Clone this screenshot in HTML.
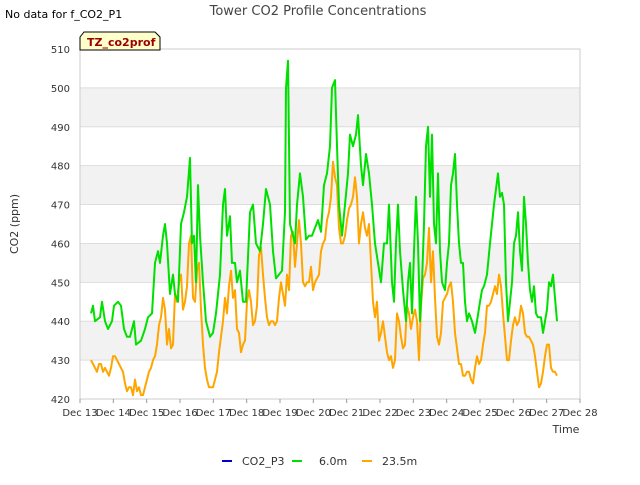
<!DOCTYPE html>
<html><head><meta charset="utf-8"><style>
body{margin:0;background:#fff;font-family:"Liberation Sans",sans-serif}
svg text{font-family:"DejaVu Sans","Liberation Sans",sans-serif}
</style></head><body>
<svg id="chart" width="640" height="480" xmlns="http://www.w3.org/2000/svg">
<rect width="640" height="480" fill="#fff"/>
<text x="318" y="15" text-anchor="middle" font-size="13" fill="#444">Tower CO2 Profile Concentrations</text>
<text x="5" y="18" font-size="11" fill="#000">No data for f_CO2_P1</text>
<g id="plot"></g>
<g>
<path d="M80,50 L80,37 L84,32 L155,32 L160,37 L160,50 Z" fill="#ffffcc" stroke="#000" stroke-width="1"/>
<text x="87" y="46" font-size="11" font-weight="bold" fill="#990000">TZ_co2prof</text>
</g>
<text transform="translate(18,224) rotate(-90)" text-anchor="middle" font-size="11" fill="#333">CO2 (ppm)</text>
<text x="566" y="433" text-anchor="middle" font-size="11" fill="#333">Time</text>
<g>
<g><line x1="222" y1="461" x2="232" y2="461" stroke="#0000cc" stroke-width="2"/><text x="242" y="465" font-size="11" fill="#333">CO2_P3</text></g>
<g><line x1="292" y1="461" x2="302" y2="461" stroke="#00dd00" stroke-width="2"/><text x="319" y="465" font-size="11" fill="#333">6.0m</text></g>
<g><line x1="362" y1="461" x2="372" y2="461" stroke="#ffa500" stroke-width="2"/><text x="382" y="465" font-size="11" fill="#333">23.5m</text></g>
</g>
</svg>
<script>
const yTicks=[420,430,440,450,460,470,480,490,500,510];
const xTickLabels=["Dec 13","Dec 14","Dec 15","Dec 16","Dec 17","Dec 18","Dec 19","Dec 20","Dec 21","Dec 22","Dec 23","Dec 24","Dec 25","Dec 26","Dec 27","Dec 28"];
const greenTimes=[13.33,13.39,13.45,13.60,13.66,13.75,13.84,13.96,14.02,14.14,14.23,14.32,14.41,14.50,14.62,14.68,14.83,14.95,15.04,15.16,15.25,15.34,15.40,15.49,15.55,15.61,15.70,15.79,15.85,15.94,16.03,16.12,16.21,16.30,16.36,16.42,16.48,16.54,16.60,16.69,16.78,16.90,16.99,17.08,17.20,17.29,17.35,17.41,17.50,17.56,17.65,17.71,17.80,17.89,17.98,18.10,18.19,18.28,18.40,18.49,18.58,18.70,18.79,18.88,18.97,19.06,19.15,19.18,19.24,19.30,19.39,19.45,19.51,19.60,19.69,19.78,19.87,19.96,20.05,20.14,20.23,20.32,20.41,20.50,20.56,20.65,20.71,20.77,20.86,20.95,21.04,21.10,21.19,21.28,21.34,21.43,21.49,21.58,21.67,21.76,21.85,21.94,22.03,22.12,22.21,22.27,22.36,22.42,22.48,22.54,22.60,22.69,22.78,22.84,22.90,22.96,23.02,23.08,23.14,23.20,23.26,23.32,23.38,23.44,23.50,23.56,23.62,23.68,23.74,23.80,23.86,23.95,24.01,24.07,24.13,24.19,24.25,24.31,24.37,24.43,24.49,24.55,24.61,24.67,24.76,24.85,24.91,25.00,25.06,25.12,25.21,25.30,25.36,25.42,25.48,25.54,25.60,25.66,25.72,25.78,25.84,25.90,25.96,26.02,26.08,26.14,26.20,26.26,26.32,26.38,26.44,26.50,26.56,26.62,26.68,26.74,26.83,26.89,26.95,27.01,27.07,27.13,27.19,27.25,27.31];
const greenValues=[442,444,440,441,445,440,438,440,444,445,444,438,436,436,440,434,435,438,441,442,455,458,455,462,465,460,447,452,447,445,465,468,472,482,460,462,450,475,462,450,440,436,437,442,452,470,474,462,467,455,455,450,453,445,445,468,470,460,458,465,474,470,458,451,452,453,468,500,507,465,462,460,470,478,472,461,462,462,464,466,463,475,478,485,500,502,485,470,462,470,478,488,485,488,493,480,475,483,478,470,460,455,450,460,460,470,450,445,460,470,458,448,440,450,455,442,458,472,460,440,450,465,485,490,472,488,465,460,478,458,450,448,455,460,475,478,483,470,460,455,455,445,440,442,440,437,440,445,448,449,452,460,465,470,474,478,472,473,470,450,440,445,450,460,462,468,458,453,472,465,455,448,445,449,442,441,441,437,440,443,450,449,452,446,440];
const orangeStart=13.33;
const orangeStep=0.06;
const orangeValues=[430,429,428,427,429,429,427,428,427,426,428,431,431,430,429,428,427,424,422,423,423,421,425,422,423,421,421,423,425,427,428,430,431,434,439,441,446,443,434,438,433,434,447,445,450,452,443,445,449,460,462,446,445,453,455,443,434,428,425,423,423,423,425,427,432,436,440,446,442,449,453,446,448,438,437,432,434,435,445,448,445,439,440,444,457,459,452,446,441,439,440,440,439,440,446,450,447,444,452,448,462,463,454,460,466,460,450,449,450,450,454,448,450,451,452,458,460,461,466,468,472,481,477,475,464,460,460,462,466,469,470,472,477,472,460,465,468,464,462,465,455,445,441,445,435,437,440,436,432,430,431,428,430,442,440,436,433,434,444,442,438,441,443,440,430,444,451,452,455,464,450,458,446,436,434,437,445,446,447,449,450,445,437,433,429,429,426,426,427,427,425,424,428,431,429,430,434,437,444,444,445,447,449,447,452,449,442,436,430,430,435,439,441,439,440,444,442,437,436,436,435,434,431,427,423,424,427,431,434,434,428,427,427,426];
const X0=80,X1=580,Y0=399,Y1=49,D0=13,D1=28,V0=420,V1=510;
function xs(d){return X0+(d-D0)/(D1-D0)*(X1-X0);}
function ys(v){return Y0-(v-V0)/(V1-V0)*(Y0-Y1);}
const NS="http://www.w3.org/2000/svg";
const plot=document.getElementById('plot');
function mk(tag,attrs){const e=document.createElementNS(NS,tag);for(const k in attrs)e.setAttribute(k,attrs[k]);plot.appendChild(e);return e;}
for(let i=0;i<yTicks.length-1;i++){
  const r=mk('rect',{x:X0,y:ys(yTicks[i+1]),width:X1-X0,height:ys(yTicks[i])-ys(yTicks[i+1]),fill:(i%2===1)?'#f2f2f2':'#ffffff'});
  
  
}
yTicks.forEach(v=>{
  const l=mk('line',{x1:X0,x2:X1,y1:ys(v),y2:ys(v),stroke:'#dddddd','stroke-width':1});
  
  
  const t=mk('text',{x:X0-10,y:ys(v)+4,'text-anchor':'end','font-size':10,fill:'#333'});
  
  
  t.textContent=v;
});
const fr=mk('rect',{x:X0,y:Y1,width:X1-X0,height:Y0-Y1,fill:'none',stroke:'#cccccc','stroke-width':1});


xTickLabels.forEach((lab,i)=>{
  const x=xs(D0+i);
  const tk=mk('line',{x1:x,x2:x,y1:Y0,y2:Y0+4,stroke:'#999'});
  
  
  const t=mk('text',{x:x,y:Y0+17,'text-anchor':'middle','font-size':10,fill:'#333'});
  
  
  t.textContent=lab;
});
let gp=greenTimes.map((d,i)=>(i?'L':'M')+xs(d).toFixed(1)+','+ys(greenValues[i]).toFixed(1)).join('');
let op=orangeValues.map((v,i)=>(i?'L':'M')+xs(orangeStart+i*orangeStep).toFixed(1)+','+ys(v).toFixed(1)).join('');
const oLine=mk('path',{d:op,fill:'none',stroke:'#ffa500','stroke-width':2,'stroke-linejoin':'round'});


const gLine=mk('path',{d:gp,fill:'none',stroke:'#00e000','stroke-width':2,'stroke-linejoin':'round'});


</script>
</body></html>
